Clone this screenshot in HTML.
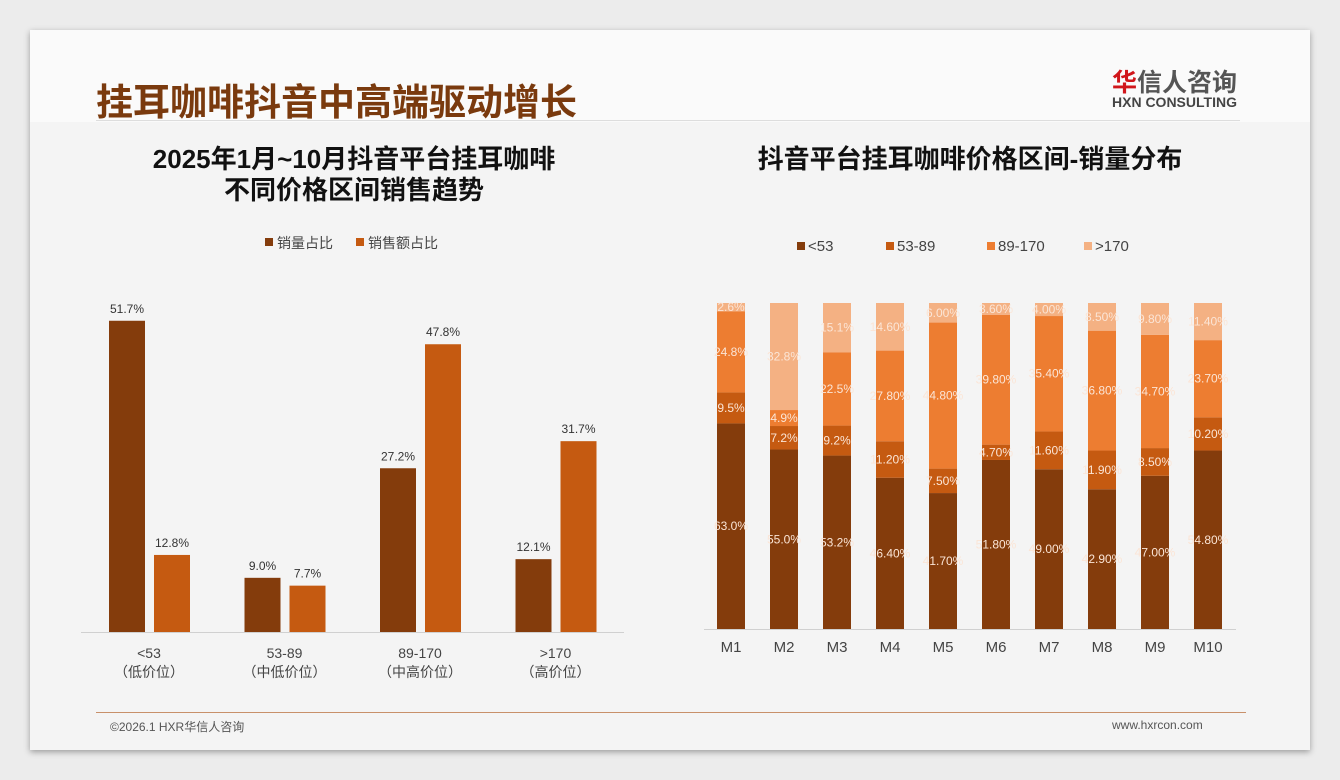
<!DOCTYPE html>
<html><head><meta charset="utf-8">
<style>
body{margin:0;width:1340px;height:780px;background:#ececec;font-family:"Liberation Sans","Noto Sans CJK SC",sans-serif;overflow:hidden}
#card{position:absolute;left:30px;top:30px;width:1280px;height:720px;background:#f4f4f4;box-shadow:0 2px 6px rgba(0,0,0,.35)}
#head{position:absolute;left:0;top:0;width:1280px;height:92px;background:#fafafa}
.t{position:absolute;white-space:nowrap}
</style></head><body>
<div id="card">
<div id="head"></div>
<div class="t" style="left:66px;top:42px;font-size:37px;font-weight:bold;color:#7a3a0e">挂耳咖啡抖音中高端驱动增长</div>
<div class="t" style="left:1082px;top:33px;font-size:25px;font-weight:bold;color:#555"><span style="color:#d0161b">华</span>信人咨询</div>
<div class="t" style="left:1082px;top:64px;font-size:14px;font-weight:bold;color:#444">HXN CONSULTING</div>
<div style="position:absolute;left:66px;top:90px;width:1144px;height:1px;background:#ddd"></div>
<div class="t" style="left:74px;top:114px;width:500px;text-align:center;font-size:26px;font-weight:bold;color:#111;line-height:31px">2025年1月~10月抖音平台挂耳咖啡<br>不同价格区间销售趋势</div>
<div class="t" style="left:620px;top:114px;width:640px;text-align:center;font-size:26px;font-weight:bold;color:#111;line-height:31px">抖音平台挂耳咖啡价格区间-销量分布</div>
<div style="position:absolute;left:66px;top:682px;width:1150px;height:1px;background:#c8906a"></div>
<div class="t" style="left:80px;top:688px;font-size:12px;color:#555">©2026.1 HXR华信人咨询</div>
<div class="t" style="left:1082px;top:688px;font-size:12px;color:#555">www.hxrcon.com</div>
</div>
<svg id="chart" width="1340" height="780" style="position:absolute;left:0;top:0" font-family="Liberation Sans, Noto Sans CJK SC, sans-serif"></svg>
<script>
const leftCats=["<53","53-89","89-170",">170"];
const leftSub=["（低价位）","（中低价位）","（中高价位）","（高价位）"];
const volShare=[51.7,9.0,27.2,12.1];
const amtShare=[12.8,7.7,47.8,31.7];
const months=["M1","M2","M3","M4","M5","M6","M7","M8","M9","M10"];
const s53=[63.0,55.0,53.2,46.4,41.7,51.8,49.0,42.9,47.0,54.8];
const s5389=[9.5,7.2,9.2,11.2,7.5,4.7,11.6,11.9,8.5,10.2];
const s89170=[24.8,4.9,22.5,27.8,44.8,39.8,35.4,36.8,34.7,23.7];
const s170=[2.6,32.8,15.1,14.6,6.0,3.6,4.0,8.5,9.8,11.4];
const seriesNames=["<53","53-89","89-170",">170"];
const decimals=[1,1,1,2,2,2,2,2,2,2];
const svg=document.getElementById('chart');
const NS="http://www.w3.org/2000/svg";
function mk(tag,attrs,txt){const e=document.createElementNS(NS,tag);for(const k in attrs)e.setAttribute(k,attrs[k]);if(txt!==undefined)e.textContent=txt;svg.appendChild(e);return e;}
const lBase=632, lScale=6.02;
const ly=v=>lBase-v*lScale;
const lx=i=>150+i*135.5;
let e=mk('line',{x1:81,x2:624,y1:lBase+0.5,y2:lBase+0.5,stroke:'#d0d0d0'});

leftCats.forEach((c,i)=>{
 let b=mk('rect',{x:lx(i)-41,y:ly(volShare[i]),width:36,height:volShare[i]*lScale,fill:'#843c0c'});
 
 let t=mk('text',{x:lx(i)-23,y:ly(volShare[i])-8,'text-anchor':'middle','font-size':12,fill:'#333'},volShare[i].toFixed(1)+'%');
 
 b=mk('rect',{x:lx(i)+4,y:ly(amtShare[i]),width:36,height:amtShare[i]*lScale,fill:'#c55a11'});
 
 t=mk('text',{x:lx(i)+22,y:ly(amtShare[i])-8,'text-anchor':'middle','font-size':12,fill:'#333'},amtShare[i].toFixed(1)+'%');
 
 t=mk('text',{x:lx(i)-1,y:658,'text-anchor':'middle','font-size':14,fill:'#444'},c);
 
 t=mk('text',{x:lx(i)-1,y:677,'text-anchor':'middle','font-size':14,fill:'#444'},leftSub[i]);
 
});
[["销量占比",'#843c0c',265],["销售额占比",'#c55a11',356]].forEach((l,i)=>{
 let r=mk('rect',{x:l[2],y:238,width:8,height:8,fill:l[1]});
 
 let t=mk('text',{x:l[2]+12,y:248,'font-size':14,fill:'#444'},l[0]);
 
});
const rBase=629, rTop=303, rH=rBase-rTop;
const rx=i=>731+i*53;
e=mk('line',{x1:704,x2:1236,y1:rBase+0.5,y2:rBase+0.5,stroke:'#d0d0d0'});

const colors=['#843c0c','#c55a11','#ed7d31','#f4b183'];
const series=[s53,s5389,s89170,s170];
months.forEach((m,i)=>{
 const tot=s53[i]+s5389[i]+s89170[i]+s170[i];
 let acc=0;
 series.forEach((s,k)=>{
  const h=s[i]/tot*rH;
  const y=rBase-acc-h;
  let r=mk('rect',{x:rx(i)-14,y:y,width:28,height:h,fill:colors[k]});
  
  let t=mk('text',{x:rx(i),y:Math.min(y+h/2+4,rBase-4),'text-anchor':'middle','font-size':12,fill:'#fbe5d6'},s[i].toFixed(decimals[i])+'%');
  
  acc+=h;
 });
 let t=mk('text',{x:rx(i),y:652,'text-anchor':'middle','font-size':15,fill:'#444'},m);
 
});
const legX=[797,886,987,1084];
seriesNames.forEach((n,k)=>{
 let r=mk('rect',{x:legX[k],y:242,width:8,height:8,fill:colors[k]});
 
 let t=mk('text',{x:legX[k]+11,y:251,'font-size':15,fill:'#444'},n);
 
});
</script>
</body></html>
